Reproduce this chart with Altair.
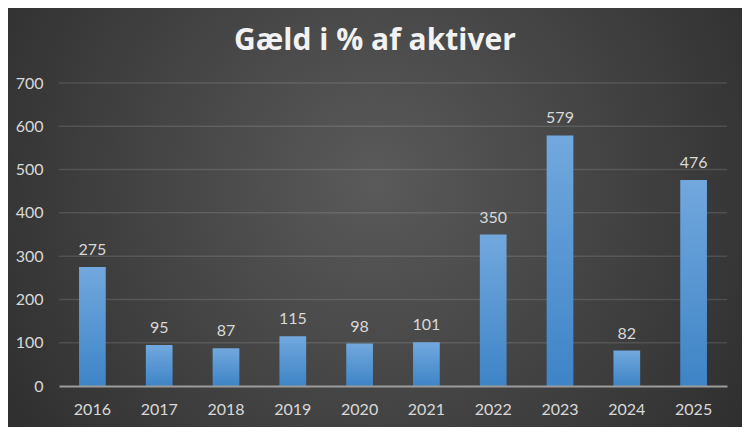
import altair as alt
import pandas as pd

years = ["2016", "2017", "2018", "2019", "2020", "2021", "2022", "2023", "2024", "2025"]
values = [275, 95, 87, 115, 98, 101, 350, 579, 82, 476]
y_ticks = [100, 200, 300, 400, 500, 600, 700]
title_text = "Gæld i % af aktiver"

df = pd.DataFrame({"year": years, "value": values})
grid_df = pd.DataFrame({"tick": y_ticks})

W, H = 668, 303
PAD = {"left": 51, "top": 75, "right": 15, "bottom": 41}

bg = alt.Chart(alt.Data(values=[{}])).mark_rect(
    fill=alt.Gradient(
        gradient="radial",
        x1=0.5, y1=0.45, r1=0,
        x2=0.5, y2=0.45, r2=0.75,
        stops=[alt.GradientStop(color="#5a5a5a", offset=0),
               alt.GradientStop(color="#242424", offset=1)],
    ),
    clip=False,
).encode(
    x=alt.value(-PAD["left"]), x2=alt.value(W + PAD["right"]),
    y=alt.value(-PAD["top"]), y2=alt.value(H + PAD["bottom"]),
)

y_scale = alt.Scale(domain=[0, 700])

grid = alt.Chart(grid_df).mark_rule(color="#ffffff", opacity=0.12, strokeWidth=1.5).encode(
    y=alt.Y("tick:Q", scale=y_scale)
)

x_enc = alt.X("year:N", sort=years, title=None,
              scale=alt.Scale(paddingInner=0.6, paddingOuter=0.3),
              axis=alt.Axis(labelAngle=0, ticks=False, domainColor="#9c9c9c",
                            domainWidth=2, labelPadding=15, labelColor="#d9d9d9",
                            labelFont="Lato", labelFontSize=16, grid=False, zindex=2))
y_enc = alt.Y("value:Q", title=None, scale=y_scale,
              axis=alt.Axis(values=list(range(0, 701, 100)), ticks=False, domain=False,
                            labelPadding=16, labelColor="#d9d9d9", labelFont="Lato",
                            labelFontSize=16, grid=False, zindex=2))

bars = alt.Chart(df).mark_bar(
    fill=alt.Gradient(
        gradient="linear", x1=0, y1=0, x2=0, y2=1,
        stops=[alt.GradientStop(color="#72a8de", offset=0),
               alt.GradientStop(color="#3e84c6", offset=1)],
    )
).encode(x=x_enc, y=y_enc)

labels = alt.Chart(df).mark_text(
    baseline="alphabetic", dy=-12, color="#d9d9d9", font="Lato", fontSize=16
).encode(x=alt.X("year:N", sort=years), y=alt.Y("value:Q"), text=alt.Text("value:Q"))

chart = alt.layer(bg, grid, bars, labels).properties(
    width=W, height=H,
    padding=PAD,
    autosize=alt.AutoSizeParams(type="none"),
    background="#262626",
    title=alt.TitleParams(title_text, font="Open Sans", fontSize=30, fontWeight="bold",
                          color="#f2f2f2", anchor="middle", baseline="alphabetic",
                          offset=-72, dx=-18),
).configure_view(stroke=None)

chart.save("out.html", embed_options={"renderer": "svg", "actions": False})
